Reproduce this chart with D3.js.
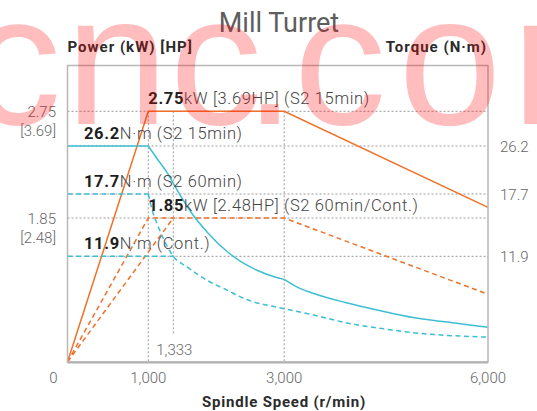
<!DOCTYPE html>
<html><head><meta charset="utf-8">
<script src="https://cdn.jsdelivr.net/npm/d3@7"></script>
<style>
html,body{margin:0;padding:0;background:#fff;}
svg{display:block;font-family:Roboto,"Noto Sans",sans-serif;}
</style>
</head><body>
<svg id="chart" width="537" height="411"></svg>
<script>
// ---------------- data ----------------
const chartTitle = "Mill Turret";
const leftAxisTitle = "Power (kW) [HP]";
const rightAxisTitle = "Torque (N·m)";
const xAxisTitle = "Spindle Speed (r/min)";

const speedBreaks = [0, 1000, 1333, 3000, 6000];      // schematic (non-uniform) speed axis
const speedTicks = [0, 1000, 3000, 6000];
const speedTickLabels = ["0", "1,000", "3,000", "6,000"];
const markSpeed = 1333;
const markSpeedLabel = "1,333";

const powerBreaks = [0, 1.85, 2.75];
const powerTicks = [2.75, 1.85];
const powerTickLabels = ["2.75", "1.85"];
const hpTickLabels = ["[3.69]", "[2.48]"];

const torqueBreaks = [0, 11.9, 17.7, 26.2];
const torqueTicks = [26.2, 17.7, 11.9];
const torqueTickLabels = ["26.2", "17.7", "11.9"];

// power curves (kW)
const powerS2_15_speed = [0, 1000, 3000, 6000];
const powerS2_15 = [0, 2.75, 2.75, 1.94];
const powerS2_60_speed = [0, 1000, 3000, 6000];
const powerS2_60 = [0, 1.85, 1.85, 0.87];
const powerCont_speed = [0, 1333];
const powerCont = [0, 1.85];

// torque curves (N·m)
const torqueS2_15_speed = [0, 1000, 1120, 1250, 1400, 1600, 1850, 2150, 2350, 2600, 2850, 3000, 3200, 3400, 3900, 4400, 4900, 5400, 6000];
const torqueS2_15 = [26.2, 26.2, 23.9, 21.5, 18.2, 16.0, 14.1, 12.3, 11.3, 10.3, 9.6, 9.3, 8.4, 7.8, 6.7, 5.8, 5.0, 4.5, 3.9];
const torqueS2_60_flat_speed = [0, 1000];
const torqueS2_60_flat = [17.7, 17.7];
const torqueCont_flat_speed = [0, 1333];
const torqueCont_flat = [11.9, 11.9];
const torqueS2_60_speed = [1000, 1060, 1130, 1210, 1333, 1540, 1840, 2140, 2380, 3000, 3430, 3920, 4410, 4900, 5390, 6000];
const torqueS2_60 = [17.7, 16.0, 14.7, 13.4, 11.9, 10.7, 9.2, 8.1, 7.2, 6.0, 5.3, 4.4, 3.8, 3.3, 3.0, 2.8];

const noteBold = ["2.75", "26.2", "17.7", "1.85", "11.9"];
const noteRest = ["kW [3.69HP] (S2 15min)", "N·m (S2 15min)", "N·m (S2 60min)", "kW [2.48HP] (S2 60min/Cont.)", "N·m (Cont.)"];
const noteAxis = ["P", "T", "T", "P", "T"];
const noteValue = [2.75, 26.2, 17.7, 1.85, 11.9];
const noteSpeed = [1000, 0, 0, 1000, 0];

const watermarkText = "cnc.con";

// ---------------- layout ----------------
const ORANGE = "#f07028", CYAN = "#3dbfd3";
const L = 67.5, R = 488, T = 65.5, B = 362;
const svg = d3.select("#chart");

const x = d3.scaleLinear().domain(speedBreaks).range([L, 148.3, 173.3, 284.2, R]);
const yP = d3.scaleLinear().domain(powerBreaks).range([B, 218, 111.3]);
const yT = d3.scaleLinear().domain(torqueBreaks).range([B, 256.3, 194, 146]);

// grid
const grid = svg.append("g").attr("stroke", "#9a9a9a").attr("stroke-width", 1).attr("stroke-dasharray", "2,2");
const hLevels = powerTicks.map(v => yP(v)).concat(torqueTicks.map(v => yT(v)));
grid.selectAll("line.h").data(hLevels).join("line")
  .attr("x1", L).attr("x2", R).attr("y1", d => d).attr("y2", d => d);
grid.selectAll("line.v").data([1000, markSpeed, 3000]).join("line")
  .attr("x1", d => x(d)).attr("x2", d => x(d))
  .attr("y1", yP(2.75)).attr("y2", d => d === markSpeed ? B - 27 : B);

// curves
const lineP = d3.line().x(d => x(d[0])).y(d => yP(d[1]));
const lineT = d3.line().x(d => x(d[0])).y(d => yT(d[1])).curve(d3.curveMonotoneX);
const zip = (a, b) => a.map((v, i) => [v, b[i]]);

function drawPath(d, color, dashed) {
  svg.append("path").attr("d", d).attr("fill", "none").attr("stroke", color)
    .attr("stroke-width", 1.5).attr("stroke-dasharray", dashed ? "5,3.5" : null);
}
drawPath(lineP(zip(powerS2_60_speed, powerS2_60)), ORANGE, true);
drawPath(lineP(zip(powerCont_speed, powerCont)), ORANGE, true);
drawPath(lineP(zip(powerS2_15_speed, powerS2_15)), ORANGE, false);
function segments(sp, vals, cuts) {
  const pts = zip(sp, vals); const segs = []; let cur = [];
  pts.forEach(p => { cur.push(p); if (cuts.includes(p[0]) && cur.length > 1) { segs.push(cur); cur = [p]; } });
  if (cur.length > 1) segs.push(cur);
  return segs;
}
segments(torqueS2_15_speed, torqueS2_15, [1000, 3000]).forEach(s => drawPath(lineT(s), CYAN, false));
drawPath(lineT(zip(torqueS2_60_flat_speed, torqueS2_60_flat)), CYAN, true);
drawPath(lineT(zip(torqueCont_flat_speed, torqueCont_flat)), CYAN, true);
drawPath(lineT(zip(torqueS2_60_speed, torqueS2_60)), CYAN, true);

// frame
svg.append("rect").attr("x", L).attr("y", T).attr("width", R - L).attr("height", B - T)
  .attr("fill", "none").attr("stroke", "#b8b8b8").attr("stroke-width", 1.5);
svg.append("line").attr("x1", L).attr("x2", R).attr("y1", B + 0.5).attr("y2", B + 0.5)
  .attr("stroke", "#b0b0b0").attr("stroke-width", 2);

// titles
svg.append("text").attr("x", 279).attr("y", 32).attr("text-anchor", "middle")
  .attr("font-size", 27).attr("fill", "#5e5e5e").text(chartTitle);
svg.append("text").attr("x", L).attr("y", 52).attr("font-size", 15).attr("font-weight", 700)
  .attr("letter-spacing", 1).attr("fill", "#2b2b2b").text(leftAxisTitle);
svg.append("text").attr("x", R - 1).attr("y", 52).attr("text-anchor", "end").attr("font-size", 15)
  .attr("letter-spacing", 1).attr("font-weight", 700).attr("fill", "#2b2b2b").text(rightAxisTitle);
svg.append("text").attr("x", 284).attr("y", 407).attr("text-anchor", "middle").attr("font-size", 15)
  .attr("letter-spacing", 0.8).attr("font-weight", 700).attr("fill", "#2b2b2b").text(xAxisTitle);

// tick labels
const tickStyle = s => s.attr("font-size", 15).attr("fill", "#666").attr("font-weight", 300);
powerTicks.forEach((v, i) => {
  tickStyle(svg.append("text")).attr("x", 56).attr("y", yP(v) + 5.5).attr("text-anchor", "end").text(powerTickLabels[i]);
  tickStyle(svg.append("text")).attr("x", 56).attr("y", yP(v) + 24.5).attr("text-anchor", "end").text(hpTickLabels[i]);
});
torqueTicks.forEach((v, i) => {
  tickStyle(svg.append("text")).attr("x", 500).attr("y", yT(v) + 6).text(torqueTickLabels[i]);
});
speedTicks.forEach((v, i) => {
  tickStyle(svg.append("text")).attr("x", v === 0 ? x(v) - 14 : x(v)).attr("y", 383)
    .attr("text-anchor", "middle").text(speedTickLabels[i]);
});
tickStyle(svg.append("text")).attr("x", x(markSpeed) + 1).attr("y", 355).attr("text-anchor", "middle").text(markSpeedLabel);

// annotations
noteBold.forEach((b, i) => {
  const yy = (noteAxis[i] === "P" ? yP(noteValue[i]) : yT(noteValue[i])) - 7;
  const xx = noteSpeed[i] === 0 ? x(0) + 16.5 : x(noteSpeed[i]);
  const t = svg.append("text").attr("x", xx).attr("y", yy).attr("font-size", 16.5).attr("letter-spacing", 0.65);
  t.append("tspan").attr("font-weight", 700).attr("fill", "#1e1e1e").text(b);
  t.append("tspan").attr("font-weight", 300).attr("fill", "#444").text(noteRest[i]);
});

// watermark (present in the reference image)
const wmX = [15, 117, 216, 270, 340, 450, 563];
const wm = svg.append("g").attr("fill", "rgb(255,0,0)").attr("fill-opacity", 0.26)
  .attr("font-family", "'Liberation Sans', Arial, sans-serif").attr("font-size", 185).attr("text-anchor", "middle");
watermarkText.split("").forEach((ch, i) => {
  wm.append("text").attr("x", wmX[i]).attr("y", 124).text(ch);
});
</script>
</body></html>
